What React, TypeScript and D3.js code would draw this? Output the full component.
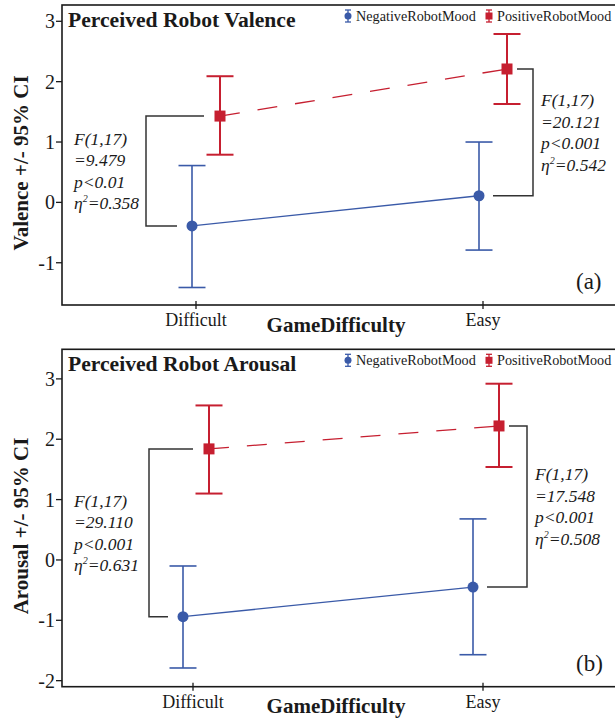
import * as d3 from 'd3';

// categories and tick labels
const categories = ['Difficult', 'Easy'];
const valenceTicks = [-1, 0, 1, 2, 3];
const arousalTicks = [-2, -1, 0, 1, 2, 3];

// valence means and 95% CI
const valenceNegMean = [-0.39, 0.11];
const valenceNegLo = [-1.41, -0.79];
const valenceNegHi = [0.61, 1.0];
const valencePosMean = [1.43, 2.21];
const valencePosLo = [0.79, 1.63];
const valencePosHi = [2.09, 2.79];

// arousal means and 95% CI
const arousalNegMean = [-0.94, -0.45];
const arousalNegLo = [-1.79, -1.57];
const arousalNegHi = [-0.1, 0.68];
const arousalPosMean = [1.84, 2.22];
const arousalPosLo = [1.1, 1.54];
const arousalPosHi = [2.56, 2.92];

// stats annotations
const valenceStatsLeft = ['F(1,17)', '=9.479', 'p<0.01', '0.358'];
const valenceStatsRight = ['F(1,17)', '=20.121', 'p<0.001', '0.542'];
const arousalStatsLeft = ['F(1,17)', '=29.110', 'p<0.001', '0.631'];
const arousalStatsRight = ['F(1,17)', '=17.548', 'p<0.001', '0.508'];

const BLUE = '#3a5aa8';
const RED = '#c61f30';
const INK = '#1a1a1a';
const SERIF = '"Liberation Serif", "Times New Roman", serif';

const W = 615;
const H = 718;
const LEFT = 62;
const RIGHT = 616;

function Stats({ lines, x, yMid }) {
  const lh = 21.5;
  const y0 = yMid - 1.5 * lh + 6;
  return (
    <text fontFamily={SERIF} fontStyle="italic" fontSize={17.5} fill={INK}>
      {lines.map((l, i) =>
        i < 3 ? (
          <tspan key={i} x={x} y={y0 + i * lh}>{l}</tspan>
        ) : (
          <tspan key={i} x={x} y={y0 + i * lh}>
            η<tspan fontSize={10} dy={-7}>2</tspan>
            <tspan dy={7}>={l}</tspan>
          </tspan>
        )
      )}
    </text>
  );
}

function LegendIcon({ x, y, color, square }) {
  return (
    <g stroke={color} fill={color}>
      <line x1={x} x2={x} y1={y - 6} y2={y + 6} strokeWidth={1.3} />
      <line x1={x - 3} x2={x + 3} y1={y - 6} y2={y - 6} strokeWidth={1.3} />
      <line x1={x - 3} x2={x + 3} y1={y + 6} y2={y + 6} strokeWidth={1.3} />
      {square ? (
        <rect x={x - 3.5} y={y - 3.5} width={7} height={7} stroke="none" />
      ) : (
        <circle cx={x} cy={y} r={3.5} stroke="none" />
      )}
    </g>
  );
}

function Panel(props) {
  const { top, bottom, yDomain, ticks, xRange, dodge, neg, pos, title, yLabel, statsL, statsR, bracketOff, tag } = props;
  const y = d3.scaleLinear().domain(yDomain).range([bottom, top]);
  const x = d3.scalePoint().domain(categories).range(xRange);

  const negX = categories.map((c) => x(c) + dodge.neg);
  const posX = categories.map((c) => x(c) + dodge.pos);
  const negPts = categories.map((c, i) => [negX[i], y(neg.mean[i])]);
  const posPts = categories.map((c, i) => [posX[i], y(pos.mean[i])]);
  const line = d3.line();

  const capW = 13.5;
  const lbx = x(categories[0]) - bracketOff;
  const rbx = x(categories[1]) + bracketOff;
  const yMidL = (y(pos.mean[0]) + y(neg.mean[0])) / 2;
  const yMidR = (y(pos.mean[1]) + y(neg.mean[1])) / 2;

  const errBars = (s, xs, color, sw) =>
    categories.map((c, i) => (
      <g key={c} stroke={color} strokeWidth={sw}>
        <line x1={xs[i]} x2={xs[i]} y1={y(s.hi[i])} y2={y(s.lo[i])} />
        <line x1={xs[i] - capW} x2={xs[i] + capW} y1={y(s.hi[i])} y2={y(s.hi[i])} />
        <line x1={xs[i] - capW} x2={xs[i] + capW} y1={y(s.lo[i])} y2={y(s.lo[i])} />
      </g>
    ));

  const legY = top + 11;
  const midY = (top + bottom) / 2 + 8;

  return (
    <g>
      <rect x={LEFT} y={top} width={RIGHT - LEFT} height={bottom - top} fill="none" stroke={INK} strokeWidth={1.6} />

      {/* y axis */}
      {ticks.map((t) => (
        <g key={t}>
          <line x1={LEFT - 6} x2={LEFT} y1={y(t)} y2={y(t)} stroke={INK} strokeWidth={1.3} />
          <text x={LEFT - 7} y={y(t) + 7} textAnchor="end" fontFamily={SERIF} fontSize={20} fill={INK}>
            {t}
          </text>
        </g>
      ))}
      <text
        transform={`translate(28,${midY}) rotate(-90)`}
        textAnchor="middle"
        fontFamily={SERIF}
        fontWeight="bold"
        fontSize={21}
        fill={INK}
      >
        {yLabel}
      </text>

      {/* x axis */}
      {categories.map((c) => (
        <g key={c}>
          <line x1={x(c)} x2={x(c)} y1={bottom - 4} y2={bottom + 4} stroke={INK} strokeWidth={1.3} />
          <text x={x(c)} y={bottom + 21} textAnchor="middle" fontFamily={SERIF} fontSize={18} fill={INK}>
            {c}
          </text>
        </g>
      ))}
      <text x={336} y={bottom + 26.5} textAnchor="middle" fontFamily={SERIF} fontWeight="bold" fontSize={21} fill={INK}>
        GameDifficulty
      </text>

      {/* title, legend, tag */}
      <text x={68} y={top + 22} fontFamily={SERIF} fontWeight="bold" fontSize={21.6} fill={INK}>
        {title}
      </text>
      <LegendIcon x={348} y={legY} color={BLUE} square={false} />
      <text x={356} y={legY + 5} fontFamily={SERIF} fontSize={14.2} fill={INK}>NegativeRobotMood</text>
      <LegendIcon x={489} y={legY} color={RED} square={true} />
      <text x={497} y={legY + 5} fontFamily={SERIF} fontSize={14.2} fill={INK}>PositiveRobotMood</text>
      <text x={576} y={bottom - 16} fontFamily={SERIF} fontSize={23} fill={INK}>{tag}</text>

      {/* brackets */}
      <path
        d={`M${posX[0] - 16},${y(pos.mean[0])}H${lbx}V${y(neg.mean[0])}H${negX[0] - 15}`}
        fill="none"
        stroke="#333"
        strokeWidth={1.5}
      />
      <path
        d={`M${posX[1] + 10},${y(pos.mean[1])}H${rbx}V${y(neg.mean[1])}H${negX[1] + 14}`}
        fill="none"
        stroke="#333"
        strokeWidth={1.5}
      />
      <Stats lines={statsL} x={74} yMid={yMidL} />
      <Stats lines={statsR} x={rbx + 8} yMid={yMidR} />

      {/* series lines */}
      <path d={line(negPts)} fill="none" stroke={BLUE} strokeWidth={1.3} />
      <path d={line(posPts)} fill="none" stroke={RED} strokeWidth={1.3} strokeDasharray="20 18" />

      {errBars(neg, negX, BLUE, 1.6)}
      {errBars(pos, posX, RED, 2)}

      {negPts.map((p, i) => (
        <circle key={i} cx={p[0]} cy={p[1]} r={5.5} fill={BLUE} />
      ))}
      {posPts.map((p, i) => (
        <rect key={i} x={p[0] - 5.5} y={p[1] - 5.5} width={11} height={11} fill={RED} />
      ))}
    </g>
  );
}

export default function App() {
  return (
    <svg width={W} height={H} style={{ position: 'fixed', left: 0, top: 0, background: '#fff' }}>
      <rect width={W} height={H} fill="#fff" />
      <Panel
        top={5}
        bottom={305}
        yDomain={[-1.7, 3.27]}
        ticks={valenceTicks}
        xRange={[196, 483]}
        dodge={{ neg: -4, pos: 24 }}
        neg={{ mean: valenceNegMean, lo: valenceNegLo, hi: valenceNegHi }}
        pos={{ mean: valencePosMean, lo: valencePosLo, hi: valencePosHi }}
        title="Perceived Robot Valence"
        yLabel="Valence +/- 95% CI"
        statsL={valenceStatsLeft}
        statsR={valenceStatsRight}
        bracketOff={50}
        tag="(a)"
      />
      <Panel
        top={349.3}
        bottom={686.7}
        yDomain={[-2.1, 3.49]}
        ticks={arousalTicks}
        xRange={[193, 483]}
        dodge={{ neg: -10, pos: 16 }}
        neg={{ mean: arousalNegMean, lo: arousalNegLo, hi: arousalNegHi }}
        pos={{ mean: arousalPosMean, lo: arousalPosLo, hi: arousalPosHi }}
        title="Perceived Robot Arousal"
        yLabel="Arousal +/- 95% CI"
        statsL={arousalStatsLeft}
        statsR={arousalStatsRight}
        bracketOff={44}
        tag="(b)"
      />
    </svg>
  );
}
